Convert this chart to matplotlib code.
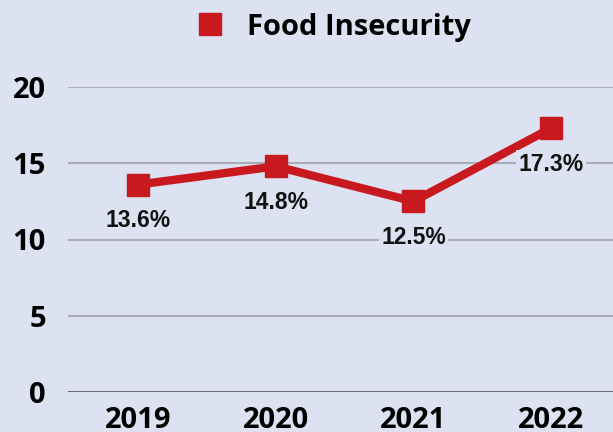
import matplotlib.pyplot as plt

years = ["2019", "2020", "2021", "2022"]
food_insecurity = [13.6, 14.8, 12.5, 17.3]
value_labels = ["13.6%", "14.8%", "12.5%", "17.3%"]
y_ticks = [0, 5, 10, 15, 20]

BG = "#dce2f1"
RED = "#c8191f"

fig = plt.figure(figsize=(6.13, 4.32), dpi=100, facecolor=BG)
ax = fig.add_axes([68 / 613, 40 / 432, 1 - 68 / 613, (392 - 87) / 432])
ax.set_facecolor(BG)

x = list(range(len(years)))
ax.plot(x, food_insecurity, color=RED, linewidth=6, marker="s", markersize=15.5,
        label="Food Insecurity", clip_on=False, zorder=3)

for xi, v, lab in zip(x, food_insecurity, value_labels):
    ax.annotate(lab, (xi, v), xytext=(0, -26), textcoords="offset points",
                ha="center", va="center", fontsize=16.5, fontweight="bold",
                family="Liberation Sans", color="#111111", zorder=4,
                bbox=dict(boxstyle="square,pad=0.1", fc=BG, ec="none"))

ax.set_xlim(-0.51, 3.45)
ax.set_ylim(0, 20)
ax.set_yticks(y_ticks)
ax.set_xticks(x)
ax.set_xticklabels(years)
ax.grid(axis="y", color="#a8adb8", linewidth=1.5)
ax.set_axisbelow(True)
for s in ax.spines.values():
    s.set_visible(False)
ax.axhline(0, color="#5f646c", linewidth=2, zorder=2)
ax.tick_params(length=0, labelsize=21)
ax.tick_params(axis="y", pad=16)
ax.tick_params(axis="x", pad=10)
for t in ax.get_yticklabels() + ax.get_xticklabels():
    t.set_fontweight("bold")
    t.set_family("Open Sans")

fig.legend(loc="center", bbox_to_anchor=(333 / 613, 1 - 27 / 432), frameon=False,
           prop={"family": "Open Sans", "weight": "bold", "size": 21},
           handlelength=1.0, handletextpad=0.75)
leg = fig.legends[0]
for h in leg.legend_handles:
    h.set_linestyle("none")
    h.set_markersize(16)

fig.savefig("out.png", dpi=100, facecolor=BG)
